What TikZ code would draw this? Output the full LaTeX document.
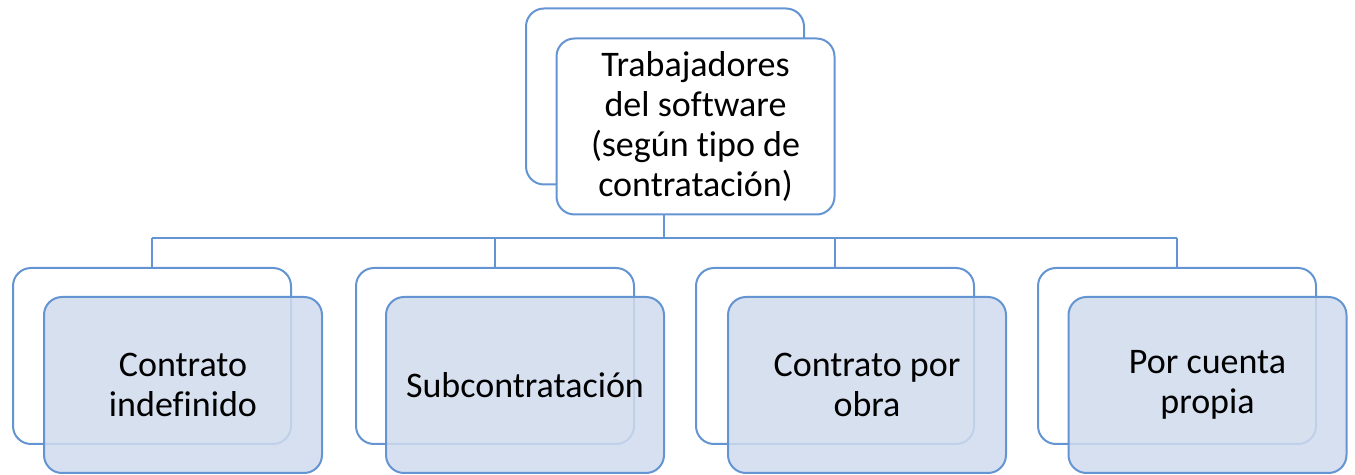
\documentclass[tikz,border=0pt]{standalone}
\usepackage{fontspec}
\setmainfont[Ligatures=NoCommon]{Carlito}
\definecolor{edge}{RGB}{100,149,210}
\definecolor{frontfill}{RGB}{207,219,237}
\begin{document}
\begin{tikzpicture}[x=0.5pt,y=-0.5pt,
  box/.style={draw=edge,line width=1pt,rounded corners=9pt,minimum width=139pt,minimum height=88pt,inner sep=0pt,
    font=\fontsize{18}{20}\selectfont,align=center,text=black},
  backbox/.style={box,fill=white},
  topfront/.style={box,fill=white},
  frontbox/.style={box,fill=frontfill,fill opacity=0.85,text opacity=1},
  link/.style={draw=edge,line width=1pt}]
\useasboundingbox (0,0) rectangle (1355,475);
% top
\node[backbox] (tb) at (665,96.5) {};
\node[topfront] (tf) at (695.5,126.5) {Trabajadores\\del software\\(según tipo de\\contratación)};
% bottom back boxes
\node[backbox] (b1) at (152,356) {};
\node[backbox] (b2) at (495,356) {};
\node[backbox] (b3) at (835,356) {};
\node[backbox] (b4) at (1177,356) {};
% connectors
\coordinate (bus) at (664,238);
\draw[link] (bus |- tf.south) -- (bus);
\draw[link] (bus -| b1.north) -- (bus -| b4.north);
\foreach \b in {b1,b2,b3,b4} \draw[link] (bus -| \b.north) -- (\b.north);
% front boxes
\node[frontbox] (f1) at (183,385) {Contrato\\indefinido};
\node[frontbox] (f2) at (525,385) {Subcontratación};
\node[frontbox] (f3) at (867,385) {Contrato por\\obra};
\node[frontbox] (f4) at (1207.5,385) {Por cuenta\\propia};
\end{tikzpicture}
\end{document}
